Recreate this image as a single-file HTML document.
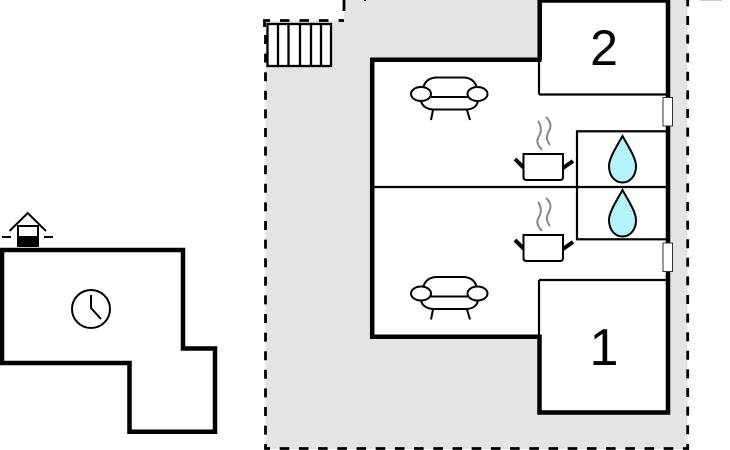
<!DOCTYPE html>
<html>
<head>
<meta charset="utf-8">
<style>
html,body{margin:0;padding:0;background:#fff;width:730px;height:450px;overflow:hidden}
svg{display:block}
text{font-family:"Liberation Sans",sans-serif;fill:#000}
</style>
</head>
<body>
<svg width="730" height="450" viewBox="0 0 730 450" xmlns="http://www.w3.org/2000/svg">
<defs>
<g id="sofa" fill="none" stroke="#000" stroke-width="2">
  <path d="M423 88 C425 81 430 77.500 437 77.500 H463 C470 77.500 475 81 477 88"/>
  <path d="M431 97 H468"/>
  <path d="M421 101 C422 106 427 109.500 434 109.500 H466 C473 109.500 477 106 478 101"/>
  <path d="M433 110 L431 120 M467 110 L470 120"/>
  <ellipse cx="421" cy="94" rx="10" ry="7" fill="#fff"/>
  <ellipse cx="477.500" cy="94" rx="10" ry="7" fill="#fff"/>
</g>
<g id="pot">
  <path d="M542 150 C537 144 536 141 539 136 C542 131 541 125 538 121" fill="none" stroke="#888" stroke-width="2"/>
  <path d="M550 145 C546 140 546 136 549 131 C552 125 550 121 546 117" fill="none" stroke="#888" stroke-width="2"/>
  <path d="M524 168 L515 159 M563 168 L573 161" fill="none" stroke="#000" stroke-width="4"/>
  <path d="M523.500 154 H563 V177 Q563 180 560 180 H526.500 Q523.500 180 523.500 177 Z" fill="#fff" stroke="#000" stroke-width="2"/>
</g>
<path id="drop" d="M622.500 136 C628 146 636 158 636 166 C636 176 630 182.500 622.500 182.500 C615 182.500 609 176 609 166 C609 158 617 146 622.500 136 Z" fill="#b4f4fa" stroke="#000" stroke-width="2"/>
</defs>

<!-- yard -->
<path d="M265.500 21 H344 V0 H687.500 V449 H265.500 Z" fill="#e4e4e4"/>
<g fill="none" stroke="#000" stroke-width="2.800">
  <path d="M280 20.500 H344" stroke-dasharray="9.500 10"/>
  <path d="M265.500 35 V440" stroke-dasharray="9 9.600"/>
  <path d="M279.700 448.500 H684" stroke-dasharray="9.600 9.600"/>
  <path d="M687.700 -2.600 V436" stroke-dasharray="9 9.600"/>
  <path d="M344 0 V11"/>
  <path d="M270 20.500 H264.500 V27"/>
  <path d="M265.500 444 V448.500 H270"/>
  <path d="M687.700 444 V448.500 H684"/>
</g>
<rect x="364" y="0" width="2" height="1" fill="#000"/>
<rect x="700" y="0" width="22" height="1" fill="#ccc"/>

<!-- stairs -->
<rect x="267.500" y="24" width="63.500" height="42" fill="#fff" stroke="#000" stroke-width="2.300"/>
<path d="M278 24 V66 M288.500 24 V66 M300 24 V66 M311 24 V66 M321 24 V66" stroke="#000" stroke-width="2.300"/>

<!-- house -->
<path d="M372 60 H539 V1 H667 V412 H539 V337 H372 Z" fill="#fff"/>
<path d="M539 94.500 H668 M539 280 H668 M539 60 V94.500 M539 280 V337" fill="none" stroke="#000" stroke-width="2.200"/>
<path d="M541.500 59.700 H372.200 V336.700 H541.500" fill="none" stroke="#000" stroke-width="4.500"/>
<path d="M539.700 60 V0.500 H668 V412.500 H539.500 V335" fill="none" stroke="#000" stroke-width="4.500"/>
<path d="M372 187 H668" stroke="#000" stroke-width="2.200"/>
<rect x="577" y="131.300" width="91" height="108" fill="none" stroke="#000" stroke-width="2.200"/>

<!-- windows -->
<rect x="663" y="97.500" width="9.500" height="28.500" fill="#fff" stroke="#333" stroke-width="1"/>
<rect x="663" y="243" width="9.500" height="28.500" fill="#fff" stroke="#333" stroke-width="1"/>

<use href="#sofa"/>
<use href="#sofa" transform="translate(0,199.500)"/>
<use href="#pot"/>
<use href="#pot" transform="translate(0,81)"/>
<use href="#drop"/>
<use href="#drop" transform="translate(0,54)"/>

<text x="604" y="65" font-size="50" text-anchor="middle">2</text>
<text x="604" y="365" font-size="52" text-anchor="middle">1</text>

<!-- annex -->
<path d="M2 250 H183 V348.500 H215 V431.700 H129.500 V363 H2 Z" fill="#fff" stroke="#000" stroke-width="4.500"/>
<circle cx="91" cy="309" r="19" fill="none" stroke="#000" stroke-width="2"/>
<path d="M91 295 V308 L101 319" fill="none" stroke="#000" stroke-width="2"/>

<!-- well -->
<rect x="18" y="226" width="20" height="20" fill="#fff" stroke="#000" stroke-width="2"/>
<rect x="17" y="236" width="21.500" height="10" fill="#000"/>
<path d="M9.500 231 L27.700 213 L46 231" fill="none" stroke="#000" stroke-width="2"/>
<path d="M2 237 H11 M44 237 H53" stroke="#000" stroke-width="2"/>
</svg>
</body>
</html>
